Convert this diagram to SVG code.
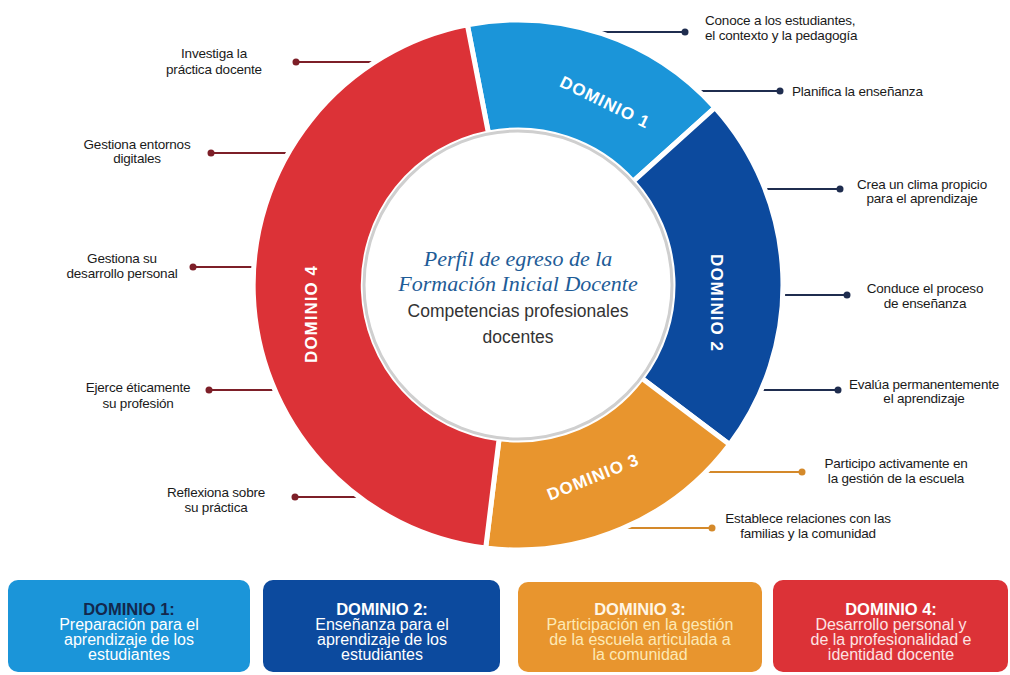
<svg xmlns="http://www.w3.org/2000/svg" width="1010" height="675" viewBox="0 0 1010 675">
  <style>
    .lbl { font-family: "Liberation Sans", Arial, sans-serif; font-size: 13.5px; fill: #1a1a1a; letter-spacing: -0.2px; }
    .mid { text-anchor: middle; }
    .navy { stroke: #1f2d4f; stroke-width: 2; fill: none; }
    .org { stroke: #d4892a; stroke-width: 2; fill: none; }
    .red { stroke: #7d1f28; stroke-width: 2; fill: none; }
    .dnavy { fill: #1f2d4f; }
    .dorg { fill: #d4892a; }
    .dred { fill: #7d1f28; }
    .seg { stroke: #ffffff; stroke-width: 5; stroke-linejoin: miter; }
    .ring { font-family: "Liberation Sans", Arial, sans-serif; font-size: 17px; font-weight: bold; fill: #ffffff; letter-spacing: 1px; text-anchor: middle; }
    .box-h { font-family: "Liberation Sans", Arial, sans-serif; font-size: 16.5px; font-weight: bold; text-anchor: middle; }
    .box-t { font-family: "Liberation Sans", Arial, sans-serif; font-size: 16px; text-anchor: middle; }
  </style>
  <rect width="1010" height="675" fill="#ffffff"/>

  <g id="connectors">
    <line class="navy" x1="590" y1="32" x2="685" y2="32"/>
    <circle class="dnavy" cx="685" cy="32" r="3.5"/>
    <line class="navy" x1="693" y1="91" x2="780" y2="91"/>
    <circle class="dnavy" cx="780" cy="91" r="3.5"/>
    <line class="navy" x1="758" y1="189" x2="840" y2="189"/>
    <circle class="dnavy" cx="840" cy="189" r="3.5"/>
    <line class="navy" x1="776" y1="295" x2="847" y2="295"/>
    <circle class="dnavy" cx="847" cy="295" r="3.5"/>
    <line class="navy" x1="754" y1="390" x2="838" y2="390"/>
    <circle class="dnavy" cx="838" cy="390" r="3.5"/>
    <line class="org" x1="700" y1="472" x2="802" y2="472"/>
    <circle class="dorg" cx="802" cy="472" r="3.5"/>
    <line class="org" x1="618" y1="528" x2="712" y2="528"/>
    <circle class="dorg" cx="712" cy="528" r="3.5"/>
    <line class="red" x1="296" y1="62" x2="382" y2="62"/>
    <circle class="dred" cx="296" cy="62" r="3.5"/>
    <line class="red" x1="211" y1="153" x2="295" y2="153"/>
    <circle class="dred" cx="211" cy="153" r="3.5"/>
    <line class="red" x1="193" y1="267" x2="261" y2="267"/>
    <circle class="dred" cx="193" cy="267" r="3.5"/>
    <line class="red" x1="209" y1="390" x2="283" y2="390"/>
    <circle class="dred" cx="209" cy="390" r="3.5"/>
    <line class="red" x1="295" y1="497" x2="366" y2="497"/>
    <circle class="dred" cx="295" cy="497" r="3.5"/>
  </g>

  <g id="dominio1">
    <path class="seg" fill="#1b95d9" d="M467.4,24.9 A265,265 0 0 1 714.9,107.7 L633.2,181.3 A155,155 0 0 0 488.4,132.9 Z"/>
    <text class="ring" transform="translate(605,102) rotate(26)" dy="0.35em">DOMINIO 1</text>
  </g>
  <g id="dominio2">
    <path class="seg" fill="#0c4a9e" d="M714.9,107.7 A265,265 0 0 1 729.6,444.5 L641.8,378.3 A155,155 0 0 0 633.2,181.3 Z"/>
    <text class="ring" transform="translate(717,303) rotate(90)" dy="0.35em">DOMINIO 2</text>
  </g>
  <g id="dominio3">
    <path class="seg" fill="#e8952e" d="M729.6,444.5 A265,265 0 0 1 485.7,548.0 L499.1,438.8 A155,155 0 0 0 641.8,378.3 Z"/>
    <text class="ring" transform="translate(593,477) rotate(-22)" dy="0.35em">DOMINIO 3</text>
  </g>
  <g id="dominio4">
    <path class="seg" fill="#dc3237" d="M485.7,548.0 A265,265 0 0 1 467.4,24.9 L488.4,132.9 A155,155 0 0 0 499.1,438.8 Z"/>
    <text class="ring" transform="translate(311,314) rotate(-90)" dy="0.35em">DOMINIO 4</text>
  </g>

  <g id="centro">
    <circle cx="518" cy="285" r="154" fill="#ffffff" stroke="#cfcfcf" stroke-width="3"/>
    <text x="518" y="266" text-anchor="middle" font-family="'Liberation Serif', 'Times New Roman', serif" font-style="italic" font-size="22" fill="#1e5c97">Perfil de egreso de la</text>
    <text x="518" y="291" text-anchor="middle" font-family="'Liberation Serif', 'Times New Roman', serif" font-style="italic" font-size="22" fill="#1e5c97">Formación Inicial Docente</text>
    <text x="518" y="317" text-anchor="middle" font-family="'Liberation Sans', Arial, sans-serif" font-size="17.5" fill="#333333">Competencias profesionales</text>
    <text x="518" y="343" text-anchor="middle" font-family="'Liberation Sans', Arial, sans-serif" font-size="17.5" fill="#333333">docentes</text>
  </g>

  <g id="c1">
    <text class="lbl" x="705" y="25">Conoce a los estudiantes,</text>
    <text class="lbl" x="705" y="40">el contexto y la pedagogía</text>
  </g>
  <g id="c2">
    <text class="lbl" x="792" y="96">Planifica la enseñanza</text>
  </g>
  <g id="c3">
    <text class="lbl mid" x="922" y="189">Crea un clima propicio</text>
    <text class="lbl mid" x="922" y="203">para el aprendizaje</text>
  </g>
  <g id="c4">
    <text class="lbl mid" x="925" y="293">Conduce el proceso</text>
    <text class="lbl mid" x="925" y="308">de enseñanza</text>
  </g>
  <g id="c5">
    <text class="lbl mid" x="924" y="389">Evalúa permanentemente</text>
    <text class="lbl mid" x="924" y="403">el aprendizaje</text>
  </g>
  <g id="c6">
    <text class="lbl mid" x="896" y="468">Participo activamente en</text>
    <text class="lbl mid" x="896" y="483">la gestión de la escuela</text>
  </g>
  <g id="c7">
    <text class="lbl mid" x="808" y="523">Establece relaciones con las</text>
    <text class="lbl mid" x="808" y="538">familias y la comunidad</text>
  </g>
  <g id="c8">
    <text class="lbl mid" x="214" y="58">Investiga la</text>
    <text class="lbl mid" x="214" y="74">práctica docente</text>
  </g>
  <g id="c9">
    <text class="lbl mid" x="137" y="149">Gestiona entornos</text>
    <text class="lbl mid" x="137" y="163">digitales</text>
  </g>
  <g id="c10">
    <text class="lbl mid" x="122" y="263">Gestiona su</text>
    <text class="lbl mid" x="122" y="278">desarrollo personal</text>
  </g>
  <g id="c11">
    <text class="lbl mid" x="138" y="392">Ejerce éticamente</text>
    <text class="lbl mid" x="138" y="408">su profesión</text>
  </g>
  <g id="c12">
    <text class="lbl mid" x="216" y="497">Reflexiona sobre</text>
    <text class="lbl mid" x="216" y="512">su práctica</text>
  </g>

  <g id="box1">
    <rect x="8" y="580" width="242" height="92" rx="10" fill="#1b95d9"/>
    <text class="box-h" x="129" y="615" fill="#13284d">DOMINIO 1:</text>
    <text class="box-t" x="129" y="630" fill="#ffffff">Preparación para el</text>
    <text class="box-t" x="129" y="645" fill="#ffffff">aprendizaje de los</text>
    <text class="box-t" x="129" y="660" fill="#ffffff">estudiantes</text>
  </g>
  <g id="box2">
    <rect x="263" y="580" width="237" height="92" rx="10" fill="#0c4a9e"/>
    <text class="box-h" x="382" y="615" fill="#ffffff">DOMINIO 2:</text>
    <text class="box-t" x="382" y="630" fill="#ffffff">Enseñanza para el</text>
    <text class="box-t" x="382" y="645" fill="#ffffff">aprendizaje de los</text>
    <text class="box-t" x="382" y="660" fill="#ffffff">estudiantes</text>
  </g>
  <g id="box3">
    <rect x="518" y="582" width="244" height="90" rx="10" fill="#e8952e"/>
    <text class="box-h" x="640" y="615" fill="#fff6e6">DOMINIO 3:</text>
    <text class="box-t" x="640" y="630" fill="#fde9b5">Participación en la gestión</text>
    <text class="box-t" x="640" y="645" fill="#fde9b5">de la escuela articulada a</text>
    <text class="box-t" x="640" y="660" fill="#fde9b5">la comunidad</text>
  </g>
  <g id="box4">
    <rect x="773" y="580" width="235" height="92" rx="10" fill="#dc3237"/>
    <text class="box-h" x="891" y="615" fill="#ffffff">DOMINIO 4:</text>
    <text class="box-t" x="891" y="630" fill="#fde3e3">Desarrollo personal y</text>
    <text class="box-t" x="891" y="645" fill="#fde3e3">de la profesionalidad e</text>
    <text class="box-t" x="891" y="660" fill="#fde3e3">identidad docente</text>
  </g>
</svg>
